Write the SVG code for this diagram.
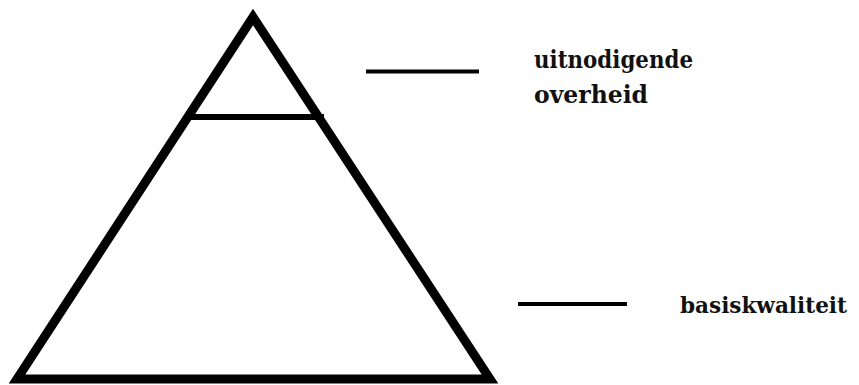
<svg xmlns="http://www.w3.org/2000/svg" width="859" height="385" viewBox="0 0 859 385">
<style>
.t{font-family:"DejaVu Serif","Liberation Serif","Times New Roman",serif;font-weight:bold;font-size:25px;fill:#111}
.l{stroke:#000;fill:none}
</style>
<rect width="859" height="385" fill="#fff"/>
<g id="pyramid">
<polygon class="l" points="253,17 17,379 490,379" stroke-width="9" stroke-linejoin="miter"/>
<line class="l" x1="188" y1="117" x2="324" y2="117" stroke-width="6"/>
</g>
<g id="connectors">
<line class="l" x1="366" y1="71.5" x2="479" y2="71.5" stroke-width="4"/>
<line class="l" x1="518" y1="304" x2="627" y2="304" stroke-width="4"/>
</g>
<g id="label-top">
<text class="t" x="534" y="68" textLength="159" lengthAdjust="spacingAndGlyphs">uitnodigende</text>
<text class="t" x="534" y="103" textLength="114" lengthAdjust="spacingAndGlyphs">overheid</text>
</g>
<g id="label-bottom">
<text class="t" x="680" y="313" style="font-size:23px" textLength="167" lengthAdjust="spacingAndGlyphs">basiskwaliteit</text>
</g>
</svg>
